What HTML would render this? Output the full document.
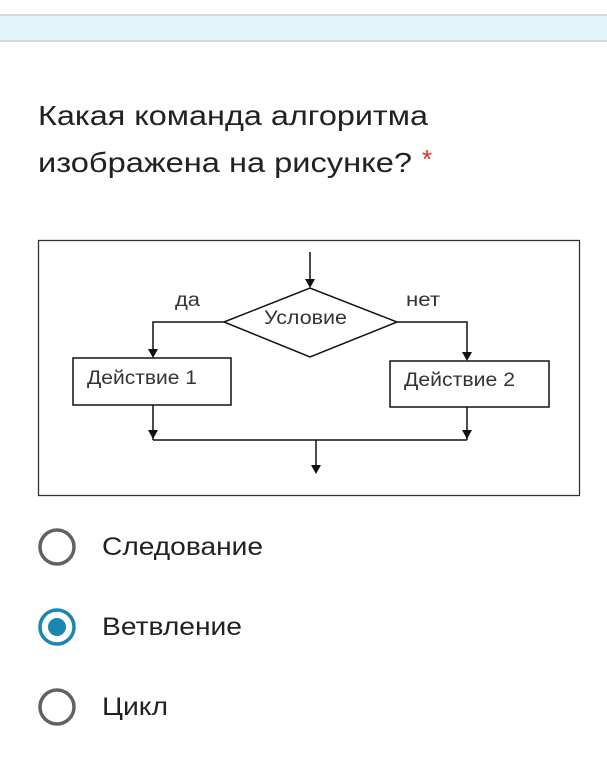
<!DOCTYPE html>
<html><head><meta charset="utf-8"><style>
html,body{margin:0;padding:0;background:#fff;width:607px;height:775px;overflow:hidden}
</style></head><body>
<svg width="607" height="775" xmlns="http://www.w3.org/2000/svg" font-family="Liberation Sans, DejaVu Sans, sans-serif">
<rect x="0" y="14" width="607" height="27" fill="#e3f3fa"/>
<rect x="0" y="14" width="607" height="2" fill="#d2dadd"/>
<rect x="0" y="40" width="607" height="2" fill="#d2dadd"/>
<text x="38" y="125" font-size="28" fill="#202124" textLength="390" lengthAdjust="spacingAndGlyphs">Какая команда алгоритма</text>
<text x="38" y="172" font-size="28" fill="#202124" textLength="374" lengthAdjust="spacingAndGlyphs">изображена на рисунке?</text>
<text x="422" y="168" font-size="26" fill="#d93025">*</text>

<rect x="38.5" y="240.5" width="541" height="255" fill="#fff" stroke="#333" stroke-width="1.3"/>
<g stroke="#111" stroke-width="1.5" fill="none">
<line x1="310" y1="252" x2="310" y2="280"/>
<polygon points="224,322 310,288 397,322 310,357" fill="#fff"/>
<polyline points="224,322 153,322 153,350"/>
<polyline points="397,322 467,322 467,353"/>
<rect x="73" y="358" width="158" height="47" fill="#fff"/>
<rect x="390" y="361" width="159" height="46" fill="#fff"/>
<line x1="153" y1="405" x2="153" y2="440"/>
<line x1="467" y1="407" x2="467" y2="440"/>
<line x1="153" y1="440" x2="467" y2="440"/>
<line x1="316" y1="440" x2="316" y2="466"/>
</g>
<g fill="#111">
<polygon points="305,279 315,279 310,288"/>
<polygon points="148,349 158,349 153,358"/>
<polygon points="462,352 472,352 467,361"/>
<polygon points="148,430 158,430 153,439"/>
<polygon points="462,430 472,430 467,439"/>
<polygon points="311,465 321,465 316,474"/>
</g>
<g font-size="19" fill="#333">
<text x="175" y="306" textLength="25" lengthAdjust="spacingAndGlyphs">да</text>
<text x="406" y="306" textLength="34" lengthAdjust="spacingAndGlyphs">нет</text>
<text x="264" y="324" textLength="83" lengthAdjust="spacingAndGlyphs">Условие</text>
<text x="87" y="384" textLength="110" lengthAdjust="spacingAndGlyphs">Действие 1</text>
<text x="404" y="386" textLength="111" lengthAdjust="spacingAndGlyphs">Действие 2</text>
</g>

<circle cx="57" cy="547" r="17" fill="none" stroke="#5f6368" stroke-width="3.5"/>
<circle cx="57" cy="627" r="17" fill="none" stroke="#1a87b3" stroke-width="3.5"/>
<circle cx="57" cy="627" r="9" fill="#1a87b3"/>
<circle cx="57" cy="707" r="17" fill="none" stroke="#5f6368" stroke-width="3.5"/>
<g font-size="25" fill="#202124">
<text x="102" y="555" textLength="161" lengthAdjust="spacingAndGlyphs">Следование</text>
<text x="102" y="635" textLength="140" lengthAdjust="spacingAndGlyphs">Ветвление</text>
<text x="102" y="715" textLength="66" lengthAdjust="spacingAndGlyphs">Цикл</text>
</g>
</svg>
</body></html>
